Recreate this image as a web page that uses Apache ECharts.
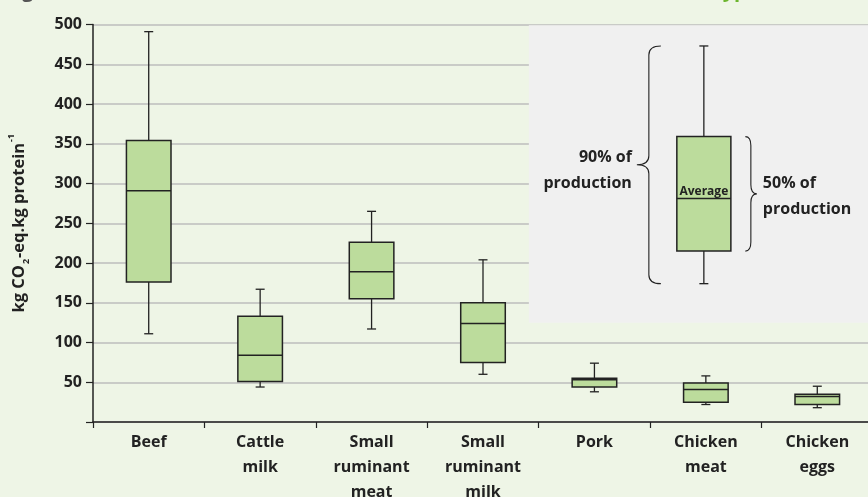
<!DOCTYPE html>
<html>
<head>
<meta charset="utf-8">
<script src="https://cdn.jsdelivr.net/npm/echarts@6/dist/echarts.min.js"></script>
<style>
html,body{margin:0;padding:0;background:#eef5e6;}
#chart{width:868px;height:497px;}
</style>
</head>
<body>
<div id="chart"></div>
<script>
// ---- data ----
var categories = ['Beef', 'Cattle\nmilk', 'Small\nruminant\nmeat', 'Small\nruminant\nmilk', 'Pork', 'Chicken\nmeat', 'Chicken\neggs'];
var whiskerLow  = [111, 44, 117, 60, 38, 22, 18];
var quartile1   = [176, 51, 155, 75, 44, 25, 22];
var medians     = [291, 84, 189, 124, 53, 41, 32];
var quartile3   = [354, 133, 226, 150, 55, 49, 35];
var whiskerHigh = [491, 167, 265, 204, 74, 58, 45];
var yTicks = [0, 50, 100, 150, 200, 250, 300, 350, 400, 450, 500];
// explanatory key box (illustrative values on the same scale)
var keyCategory = 5;
var keyValues = [174, 215, 281, 359, 473]; // low, q1, average, q3, high
var keyLabels = ['Average', '90% of\nproduction', '50% of\nproduction'];
var insetRange = [125, 500];

var FONT = '"Open Sans", "Noto Sans", sans-serif';
var DARK = '#222';
var FILL = '#bcdc9c';

var boxData = categories.map(function (c, i) {
  return [i, whiskerLow[i], quartile1[i], medians[i], quartile3[i], whiskerHigh[i]];
});

function boxShapes(api, x, v, widthFrac, dx) {
  var lo = api.coord([x, v[0]]), q1 = api.coord([x, v[1]]), md = api.coord([x, v[2]]);
  var q3 = api.coord([x, v[3]]), hi = api.coord([x, v[4]]);
  var cx = lo[0] + dx;
  var bw = api.size([1, 0])[0] * widthFrac;
  var cap = 4.5;
  var ls = {stroke: DARK, lineWidth: 1.3};
  return {
    cx: cx, bw: bw, lo: lo[1], q1: q1[1], md: md[1], q3: q3[1], hi: hi[1],
    children: [
      {type: 'line', shape: {x1: cx, y1: hi[1], x2: cx, y2: q3[1]}, style: ls},
      {type: 'line', shape: {x1: cx, y1: q1[1], x2: cx, y2: lo[1]}, style: ls},
      {type: 'line', shape: {x1: cx - cap, y1: hi[1], x2: cx + cap, y2: hi[1]}, style: ls},
      {type: 'line', shape: {x1: cx - cap, y1: lo[1], x2: cx + cap, y2: lo[1]}, style: ls},
      {type: 'rect', shape: {x: cx - bw / 2, y: q3[1], width: bw, height: q1[1] - q3[1]},
        style: {fill: FILL, stroke: DARK, lineWidth: 1.5}},
      {type: 'line', shape: {x1: cx - bw / 2, y1: md[1], x2: cx + bw / 2, y2: md[1]},
        style: {stroke: DARK, lineWidth: 1.5}}
    ]
  };
}

function renderBox(params, api) {
  var x = api.value(0);
  var v = [api.value(1), api.value(2), api.value(3), api.value(4), api.value(5)];
  var b = boxShapes(api, x, v, 0.4, 0);
  return {type: 'group', children: b.children};
}

function bracePath(tipX, bodyX, endX, y1, y2) {
  var ym = (y1 + y2) / 2, r = 9;
  return 'M' + endX + ' ' + y1 +
    ' Q' + bodyX + ' ' + y1 + ' ' + bodyX + ' ' + (y1 + r) +
    ' L' + bodyX + ' ' + (ym - r) +
    ' Q' + bodyX + ' ' + ym + ' ' + tipX + ' ' + ym +
    ' Q' + bodyX + ' ' + ym + ' ' + bodyX + ' ' + (ym + r) +
    ' L' + bodyX + ' ' + (y2 - r) +
    ' Q' + bodyX + ' ' + y2 + ' ' + endX + ' ' + y2;
}

function renderKey(params, api) {
  var x = api.value(0);
  var v = [api.value(1), api.value(2), api.value(3), api.value(4), api.value(5)];
  var b = boxShapes(api, x, v, 0.485, -2);
  var top = api.coord([x, insetRange[1]])[1] + 0.8;
  var bot = api.coord([x, insetRange[0]])[1];
  var ch = [];
  ch.push({type: 'rect', shape: {x: b.cx - 175, y: top, width: 400, height: bot - top},
    style: {fill: '#f0f0f0'}});
  ch = ch.concat(b.children);
  ch.push({type: 'text', x: b.cx, y: b.md - 1.5,
    style: {text: keyLabels[0], font: 'bold 12px ' + FONT, fill: DARK, align: 'center', verticalAlign: 'bottom'}});
  // left brace (90%)
  ch.push({type: 'path', shape: {pathData: bracePath(b.cx - 67, b.cx - 55, b.cx - 43, b.hi, b.lo)},
    style: {fill: null, stroke: DARK, lineWidth: 1.1}});
  ch.push({type: 'text', x: b.cx - 72, y: (b.hi + b.lo) / 2 + 6,
    style: {text: keyLabels[1], font: 'bold 16px ' + FONT, fill: DARK, align: 'right', verticalAlign: 'middle', lineHeight: 26}});
  // right brace (50%)
  ch.push({type: 'path', shape: {pathData: bracePath(b.cx + 53, b.cx + 47, b.cx + 41.5, b.q3, b.q1)},
    style: {fill: null, stroke: DARK, lineWidth: 1.1}});
  ch.push({type: 'text', x: b.cx + 59, y: (b.q3 + b.q1) / 2 + 3,
    style: {text: keyLabels[2], font: 'bold 16px ' + FONT, fill: DARK, align: 'left', verticalAlign: 'middle', lineHeight: 26}});
  return {type: 'group', children: ch};
}

var chart = echarts.init(document.getElementById('chart'), null, {renderer: 'canvas'});
chart.setOption({
  backgroundColor: '#eef5e6',
  animation: false,
  graphic: [
    {type: 'text', left: 5, top: -19, z: 10,
      style: {text: 'Figure', font: 'bold 20px ' + FONT, fill: '#555'}},
    {type: 'text', left: 714, top: -19, z: 10,
      style: {text: 'type', font: 'bold 20px ' + FONT, fill: '#6cb52e'}}
  ],
  grid: {left: 93, right: -5, top: 24.5, bottom: 75, containLabel: false, outerBoundsMode: 'none'},
  xAxis: {
    type: 'category',
    data: categories,
    boundaryGap: true,
    axisLine: {lineStyle: {color: DARK, width: 1.5}},
    axisTick: {show: true, length: 6, lineStyle: {color: DARK, width: 1.2}},
    axisLabel: {interval: 0, margin: 8, fontFamily: FONT, fontWeight: 'bold', fontSize: 16,
      lineHeight: 25, color: DARK, align: 'center'}
  },
  yAxis: {
    type: 'value',
    min: yTicks[0], max: yTicks[yTicks.length - 1], interval: yTicks[1] - yTicks[0],
    name: 'kg CO{sub|2}-eq.kg protein{sup|-1}',
    nameLocation: 'middle',
    nameRotate: 90,
    nameGap: 62,
    nameTextStyle: {fontFamily: FONT, fontWeight: 'bold', fontSize: 16.5, color: DARK, lineHeight: 24,
      rich: {
        sub: {fontFamily: FONT, fontWeight: 'bold', fontSize: 9, color: DARK, verticalAlign: 'bottom', lineHeight: 24, padding: [0, 1, 0, 1]},
        sup: {fontFamily: FONT, fontWeight: 'bold', fontSize: 9, color: DARK, verticalAlign: 'top', lineHeight: 24, padding: [0, 0, 0, 1]}
      }},
    axisLine: {show: true, lineStyle: {color: DARK, width: 1.5}},
    axisTick: {show: true, length: 7, lineStyle: {color: DARK, width: 1.2}},
    axisLabel: {margin: 11, fontFamily: FONT, fontWeight: 'bold', fontSize: 16, color: DARK,
      formatter: function (v) { return v === 0 ? '' : String(v); }},
    splitLine: {show: true, lineStyle: {color: '#bdbdbd', width: 1.5}}
  },
  series: [
    {type: 'custom', renderItem: renderKey, z: 3,
      data: [[keyCategory].concat(keyValues)], encode: {x: 0, y: [1, 2, 3, 4, 5]}},
    {type: 'custom', renderItem: renderBox, z: 4,
      data: boxData, encode: {x: 0, y: [1, 2, 3, 4, 5]}}
  ]
});
</script>
</body>
</html>
